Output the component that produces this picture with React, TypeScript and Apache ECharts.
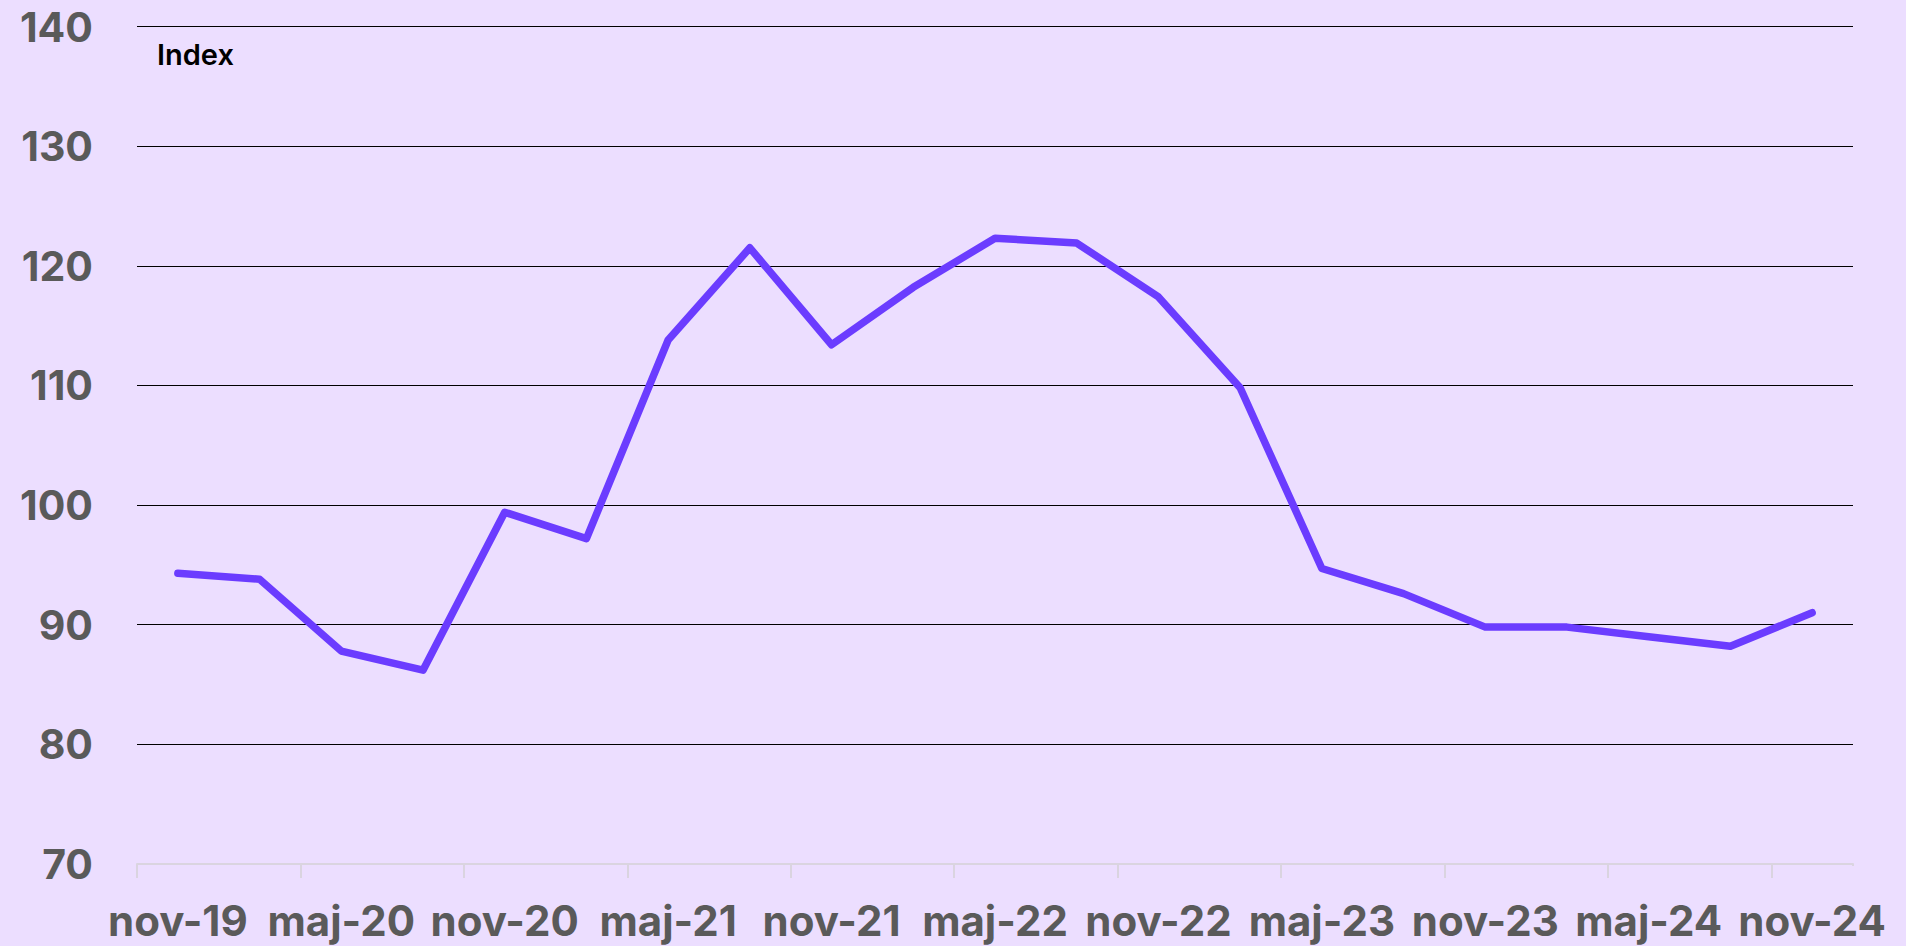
import React, { useEffect, useRef } from "react";
import * as echarts from "echarts";

const categories = [
  "nov-19", "feb-20", "maj-20", "aug-20", "nov-20", "feb-21", "maj-21",
  "aug-21", "nov-21", "feb-22", "maj-22", "aug-22", "nov-22", "feb-23",
  "maj-23", "aug-23", "nov-23", "feb-24", "maj-24", "aug-24", "nov-24",
];

const indexValues = [
  94.3, 93.8, 87.8, 86.2, 99.4, 97.2, 113.8, 121.5, 113.4, 118.2, 122.3,
  121.9, 117.4, 109.8, 94.7, 92.6, 89.8, 89.8, 89.0, 88.2, 91.0,
];

const yMin = 70;
const yMax = 140;
const yInterval = 10;
const yAxisTitle = "Index";

const BG = "#ecdeff";
const LINE = "#6b3cff";
const LABEL = "#5a5a5a";
const AXIS = "#dad4e0";
const FONT = "Inter, 'Noto Sans', sans-serif";

export default function App() {
  const ref = useRef<HTMLDivElement>(null);

  useEffect(() => {
    if (!ref.current) return;
    const chart = echarts.init(ref.current, undefined, { renderer: "svg" });
    chart.setOption({
      animation: false,
      backgroundColor: BG,
      grid: { left: 137, right: 53, top: 26.5, bottom: 82, containLabel: false },
      xAxis: {
        type: "category",
        data: categories,
        boundaryGap: true,
        axisLine: { show: true, lineStyle: { color: AXIS, width: 2 } },
        axisTick: {
          show: true,
          interval: 1,
          length: 14,
          lineStyle: { color: AXIS, width: 2 },
        },
        axisLabel: {
          interval: 1,
          margin: 35,
          color: LABEL,
          fontFamily: FONT,
          fontSize: 42,
          fontWeight: 700,
        },
        splitLine: { show: false },
      },
      yAxis: {
        type: "value",
        min: yMin,
        max: yMax,
        interval: yInterval,
        axisLine: { show: false },
        axisTick: { show: false },
        axisLabel: {
          margin: 44,
          color: LABEL,
          fontFamily: FONT,
          fontSize: 41,
          fontWeight: 700,
        },
        splitLine: {
          show: true,
          lineStyle: {
            color: ["rgba(0,0,0,0)", "#000", "#000", "#000", "#000", "#000", "#000", "#000"],
            width: 1.2,
          },
        },
      },
      graphic: [
        {
          type: "text",
          left: 157,
          top: 40,
          style: {
            text: yAxisTitle,
            fill: "#000",
            font: `600 29px ${FONT}`,
          },
        },
        {
          type: "rect",
          right: 50,
          top: 866,
          shape: { width: 8, height: 16 },
          style: { fill: BG },
          z: 100,
        },
      ],
      series: [
        {
          type: "line",
          data: indexValues,
          showSymbol: false,
          symbol: "none",
          lineStyle: { color: LINE, width: 7.5, cap: "round", join: "round" },
          z: 5,
        },
      ],
    });
    return () => chart.dispose();
  }, []);

  return (
    <div
      ref={ref}
      style={{ position: "fixed", left: 0, top: 0, width: 1906, height: 946 }}
    />
  );
}
